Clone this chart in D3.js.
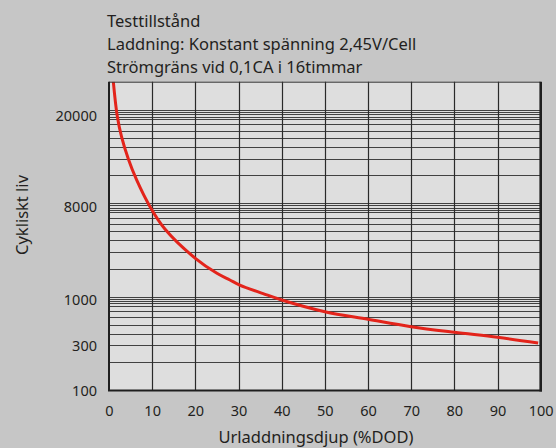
<!DOCTYPE html>
<html><head><meta charset="utf-8">
<script src="https://cdn.jsdelivr.net/npm/d3@7"></script>
<style>
html,body{margin:0;padding:0;background:#c6c6c6;}
svg{display:block;font-family:"Noto Sans",sans-serif;}
</style></head>
<body>
<svg id="c" width="556" height="448"></svg>
<script>
// ---- data ----
const titleLines = ["Testtillstånd", "Laddning: Konstant spänning 2,45V/Cell", "Strömgräns vid 0,1CA i 16timmar"];
const xTicks = [0,10,20,30,40,50,60,70,80,90,100];
const yTickValues = [100, 300, 1000, 8000, 20000];
const yTickLabels = ["100", "300", "1000", "8000", "20000"];
const dod =    [1.0,   1.9,   2.9,   4.5,   6.4,   9.5,  13,   20,   25,   28,   30.3, 35.7, 40,  50,  60,  70,  80,  90,  99.4];
const cycles = [28200, 20000, 16200, 12900, 10470, 8000, 4810, 2500, 1785, 1535, 1370, 1130, 975, 721, 593, 490, 424, 373, 322];
const paperDecades = [1, 10, 100];
const paperFactors = [1,2,3,4,5,6,7,8,8.5,9,9.5];
const xLabel = "Urladdningsdjup (%DOD)";
const yLabel = "Cykliskt liv";

// ---- layout ----
const L = 109, R = 540.7, T = 81.7, B = 390;
const svg = d3.select("#c");

const x = d3.scaleLinear().domain([0,100]).range([L,R]);
// piecewise log scale matching the printed tick labels
const yLog = d3.scaleLinear()
  .domain(yTickValues.map(v => Math.log10(v)))
  .range([390, 345.7, 299, 206.7, 115.7]);
const y = v => yLog(Math.log10(v));
// logarithmic grid paper
const paper = d3.scaleLog().domain([1, 1000]).range([B, 110]);

// plot background
svg.append("rect").attr("x",L).attr("y",T).attr("width",R-L).attr("height",B-T).attr("fill","#dedede");

// horizontal paper lines
const paperVals = [];
paperDecades.forEach(d => paperFactors.forEach(f => { if (!(d===1 && f===1)) paperVals.push(d*f); }));
paperVals.push(1000);
svg.append("g").selectAll("line").data(paperVals).join("line")
  .attr("x1",L).attr("x2",R)
  .attr("y1",d=>Math.round(paper(d))+0.5).attr("y2",d=>Math.round(paper(d))+0.5)
  .attr("stroke","#262626").attr("stroke-width",1).attr("opacity",0.85);

// vertical grid lines
svg.append("g").selectAll("line").data(xTicks.slice(1,-1)).join("line")
  .attr("x1",d=>Math.round(x(d))+0.5).attr("x2",d=>Math.round(x(d))+0.5)
  .attr("y1",T).attr("y2",B)
  .attr("stroke","#2a2a2a").attr("stroke-width",1.2);

// curve
svg.append("clipPath").attr("id","clip").append("rect").attr("x",L).attr("y",T).attr("width",R-L).attr("height",B-T);
const pts = dod.map((d,i)=>[x(d), y(cycles[i])]);
svg.append("path").attr("clip-path","url(#clip)")
  .attr("d", d3.line().curve(d3.curveCatmullRom.alpha(0.5))(pts))
  .attr("fill","none").attr("stroke","#e3241b").attr("stroke-width",3);

// borders
svg.append("line").attr("x1",L).attr("x2",R).attr("y1",T+0.5).attr("y2",T+0.5).attr("stroke","#333").attr("stroke-width",1);
svg.append("line").attr("x1",L).attr("x2",L).attr("y1",T).attr("y2",B+1).attr("stroke","#1e1e1e").attr("stroke-width",2);
svg.append("line").attr("x1",R).attr("x2",R).attr("y1",T).attr("y2",B+1.5).attr("stroke","#1e1e1e").attr("stroke-width",2.6);
svg.append("line").attr("x1",L-1).attr("x2",R+1.3).attr("y1",B+0.5).attr("y2",B+0.5).attr("stroke","#1e1e1e").attr("stroke-width",2.2);

// axes labels (via d3 axes, domain hidden)
const xAxis = d3.axisBottom(x).tickValues(xTicks).tickSize(0).tickPadding(0);
const gx = svg.append("g").attr("transform",`translate(0,${B})`).call(xAxis);
gx.select(".domain").remove();
gx.selectAll("text").attr("y",26).attr("dy",0).attr("font-size",14.5).attr("fill","#231f20").attr("font-family","Noto Sans");

const yAxisScale = d3.scaleLinear().domain(yLog.domain()).range(yLog.range());
const yAxis = d3.axisLeft(yAxisScale).tickValues(yTickValues.map(v=>Math.log10(v)))
  .tickFormat((d,i)=>yTickLabels[i]).tickSize(0).tickPadding(0);
const gy = svg.append("g").attr("transform",`translate(97,0)`).call(yAxis);
gy.select(".domain").remove();
gy.selectAll("text").attr("x",0).attr("dy","0.35em").attr("font-size",14.5).attr("fill","#231f20").attr("font-family","Noto Sans");

// titles
svg.append("g").selectAll("text").data(titleLines).join("text")
  .attr("x",107).attr("y",(d,i)=>27+i*23)
  .attr("font-size",16.5).attr("fill","#231f20").text(d=>d);

svg.append("text").attr("x",316).attr("y",443).attr("text-anchor","middle")
  .attr("font-size",16.5).attr("fill","#231f20").text(xLabel);
svg.append("text").attr("transform","translate(27.5,215) rotate(-90)").attr("text-anchor","middle")
  .attr("font-size",16.5).attr("fill","#231f20").text(yLabel);
</script>
</body></html>
